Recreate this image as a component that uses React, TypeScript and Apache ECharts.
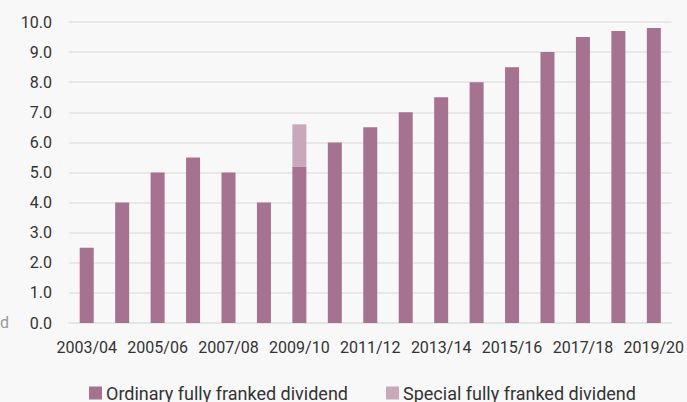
import React, { useEffect, useRef } from "react";
import * as echarts from "echarts";

const categories = [
  "2003/04", "2004/05", "2005/06", "2006/07", "2007/08", "2008/09", "2009/10",
  "2010/11", "2011/12", "2012/13", "2013/14", "2014/15", "2015/16", "2016/17",
  "2017/18", "2018/19", "2019/20",
];
const ordinary = [2.5, 4.0, 5.0, 5.5, 5.0, 4.0, 5.2, 6.0, 6.5, 7.0, 7.5, 8.0, 8.5, 9.0, 9.5, 9.7, 9.8];
const special = [0, 0, 0, 0, 0, 0, 1.4, 0, 0, 0, 0, 0, 0, 0, 0, 0, 0];
const seriesNames = ["Ordinary fully franked dividend", "Special fully franked dividend"];

const FONT = "Roboto, 'Noto Sans', sans-serif";

export default function App() {
  const ref = useRef<HTMLDivElement>(null);
  useEffect(() => {
    document.body.style.margin = "0";
    const chart = echarts.init(ref.current!, undefined, { renderer: "svg" });
    chart.setOption({
      animation: false,
      backgroundColor: "#f8f8f8",
      textStyle: { fontFamily: FONT },
      grid: { left: 69, right: 12, top: 22, bottom: 79 },
      legend: {
        top: 379,
        left: 84,
        itemWidth: 13,
        itemHeight: 13,
        itemGap: 38,
        icon: "rect",
        textStyle: { fontSize: 18, color: "#333", fontFamily: FONT, padding: [0, 0, 0, -1] },
        data: seriesNames,
      },
      xAxis: {
        type: "category",
        data: categories,
        axisLine: { lineStyle: { color: "#e3e3e3", width: 1.5 } },
        axisTick: { show: false },
        axisLabel: { interval: 1, color: "#333", fontSize: 16, margin: 16, fontFamily: FONT },
      },
      yAxis: {
        type: "value",
        min: 0,
        max: 10,
        interval: 1,
        axisLine: { show: false },
        axisTick: { show: false },
        splitLine: { lineStyle: { color: "#e3e3e3", width: 1.5 } },
        axisLabel: {
          color: "#333",
          fontSize: 16,
          margin: 17,
          fontFamily: FONT,
          formatter: (v: number) => v.toFixed(1),
        },
      },
      graphic: [
        {
          type: "text",
          left: 0,
          top: 314,
          style: { text: "d", fill: "#999", fontSize: 16, fontFamily: FONT },
        },
      ],
      series: [
        {
          name: seriesNames[0],
          type: "bar",
          stack: "div",
          data: ordinary,
          barWidth: 14,
          itemStyle: { color: "#a5728f" },
        },
        {
          name: seriesNames[1],
          type: "bar",
          stack: "div",
          data: special,
          barWidth: 14,
          itemStyle: { color: "#c9a8b9" },
        },
      ],
    });
    return () => chart.dispose();
  }, []);
  return <div ref={ref} style={{ width: 687, height: 402 }} />;
}
